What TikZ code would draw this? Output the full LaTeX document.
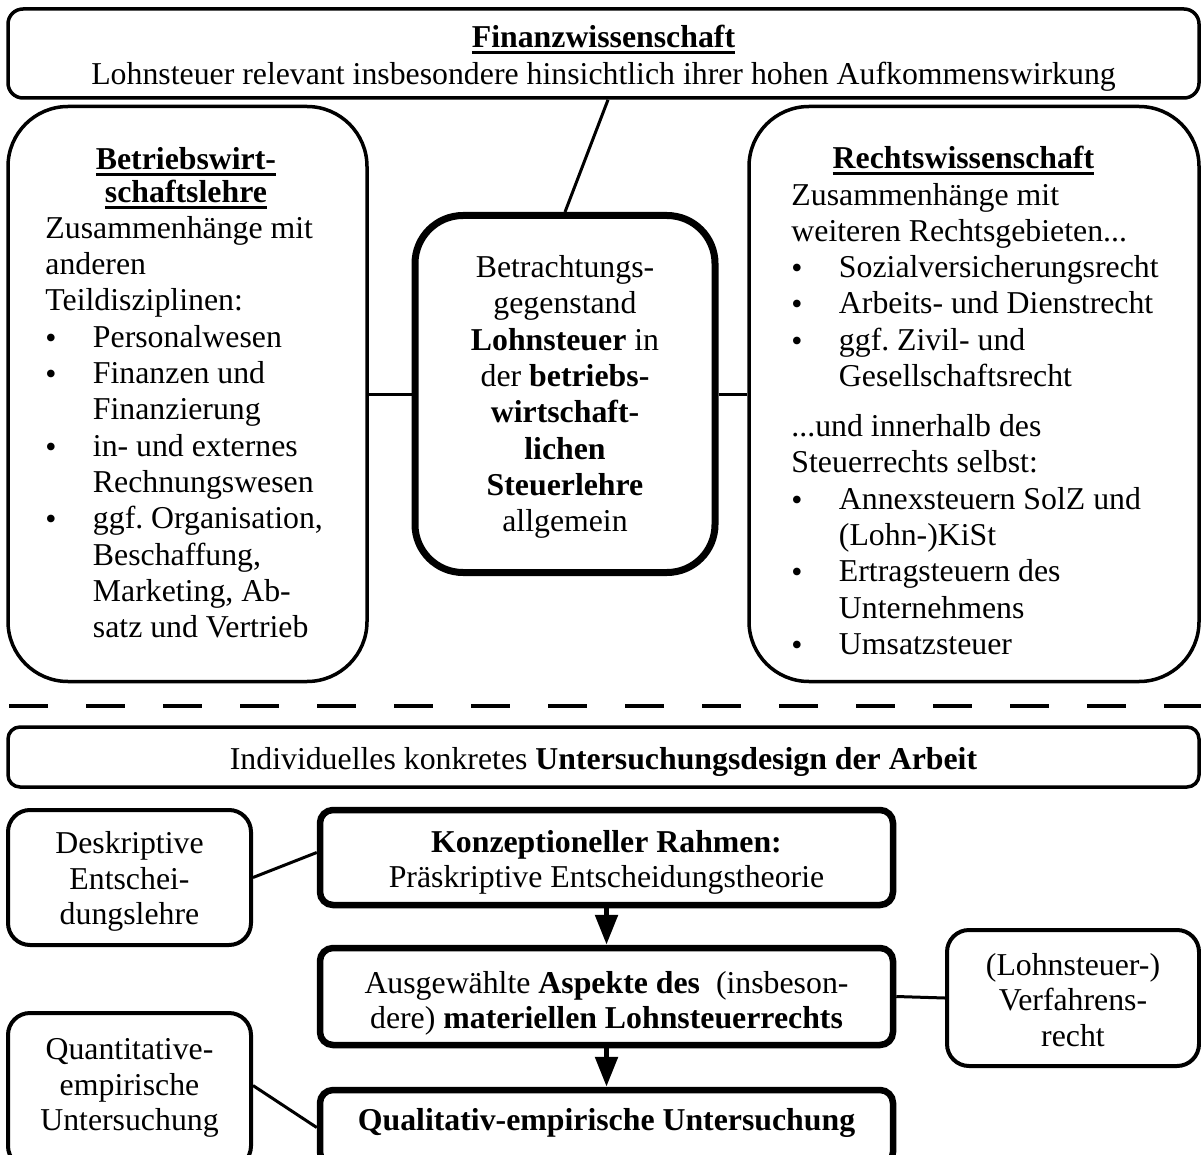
\documentclass[tikz,border=0pt]{standalone}
\usepackage{fontspec}
\setmainfont{Liberation Serif}
\usetikzlibrary{arrows.meta, positioning}

\newsavebox{\hdbox}
\newcommand{\headul}[1]{\sbox{\hdbox}{\textbf{#1}}\rlap{\rule[-6.5pt]{\wd\hdbox}{3pt}}\usebox{\hdbox}}
\newcommand{\bul}{\makebox[47.5pt][l]{\raisebox{-1pt}{•}}}
\newcommand{\listind}{\hspace*{47.5pt}}
% taller first line = text sits lower in its box
\newcommand{\push}[1]{\rule{0pt}{#1}}

\tikzset{
  frame/.style={draw, line width=3.5pt, rounded corners=15pt, inner sep=0pt},
  field/.style={draw, line width=3.5pt, rounded corners=60pt, inner sep=0pt},
  core/.style={draw, line width=7pt, rounded corners=48pt, inner sep=0pt},
  stepbox/.style={draw, line width=6.5pt, rounded corners=13pt, inner sep=0pt},
  notebox/.style={draw, line width=4pt, rounded corners=22pt, inner sep=0pt},
  link/.style={line width=3pt},
  flow/.style={line width=5.5pt, -{Triangle[length=30pt,width=22pt]}},
  cut/.style={line width=4pt, dash pattern=on 39pt off 38pt}
}

\begin{document}
\frenchspacing
\begin{tikzpicture}[x=1pt, y=-1pt, font=\fontsize{31.8}{36.3}\selectfont]
\useasboundingbox (0,0) rectangle (1201,1155);
\clip (0,0) rectangle (1201,1155);

% upper part: disciplines
\node[frame, minimum width=1191pt, minimum height=89pt, align=center] (fiwi) at (603.5,53.5)
  {\push{32pt}\headul{Finanzwissenschaft}\\Lohnsteuer relevant insbesondere hinsichtlich ihrer hohen Aufkommenswirkung};

\node[field, minimum width=359pt, minimum height=575pt] (bwl) at (187.5,394) {};
\node[field, minimum width=450pt, minimum height=575pt] (rewi) at (974,394) {};

\node[inner sep=0pt, anchor=base west] (bwltext) at ([shift={(39,65)}]bwl.north west)
  {\parbox[t]{281pt}{\raggedright
    \makebox[281pt]{\headul{Betriebswirt-}}\\[-4pt]
    \makebox[281pt]{\headul{schaftslehre}}\\
    Zusammenhänge mit\\
    anderen\\
    Teildisziplinen:\\
    \bul Personalwesen\\
    \bul Finanzen und\\
    \listind Finanzierung\\
    \bul in- und externes\\
    \listind Rechnungswesen\\
    \bul ggf. Organisation,\\
    \listind Beschaffung,\\
    \listind Marketing, Ab-\\
    \listind satz und Vertrieb}};

\node[inner sep=0pt, anchor=base west] (rewitext) at ([shift={(44,64)}]rewi.north west)
  {\parbox[t]{362pt}{\raggedright
    \makebox[344pt]{\headul{Rechtswissenschaft}}\\
    Zusammenhänge mit\\
    weiteren Rechtsgebieten...\\
    \bul Sozialversicherungsrecht\\
    \bul Arbeits- und Dienstrecht\\
    \bul ggf. Zivil- und\\
    \listind Gesellschaftsrecht\\[13.7pt]
    ...und innerhalb des\\
    Steuerrechts selbst:\\
    \bul Annexsteuern SolZ und\\
    \listind (Lohn-)KiSt\\
    \bul Ertragsteuern des\\
    \listind Unternehmens\\
    \bul Umsatzsteuer}};

\node[core, minimum width=300pt, minimum height=357pt, align=center] (core) at (565,394)
  {\push{28pt}Betrachtungs-\\gegenstand\\\textbf{Lohnsteuer} in\\der \textbf{betriebs-}\\\textbf{wirtschaft-}\\\textbf{lichen}\\\textbf{Steuerlehre}\\allgemein};

\draw[link] (core.north) -- ([xshift=4.5pt]fiwi.south);
\draw[link] (bwl.east) -- (core.west);
\draw[link] (core.east) -- (rewi.west);

\draw[cut] (9,706) -- (1201,706);

% lower part: research design
\node[frame, rounded corners=12pt, minimum width=1191pt, minimum height=60pt] (design) at (603.5,757)
  {\push{32pt}Individuelles konkretes \textbf{Untersuchungsdesign der Arbeit}};

\node[stepbox, minimum width=573pt, minimum height=95pt, align=center] (konz) at (606.5,857.5)
  {\push{32pt}\textbf{Konzeptioneller Rahmen:}\\[-2pt]Präskriptive Entscheidungstheorie};
\node[stepbox, minimum width=573pt, minimum height=97pt, align=center] (aspekte) at (606.5,996.5)
  {\push{36pt}Ausgewählte \textbf{Aspekte des}~ (insbeson-\\[-1pt]dere) \textbf{materiellen Lohnsteuerrechts}};
\node[stepbox, minimum width=573pt, text height=40pt, text depth=35pt, anchor=base] (quali) at (606.5,1130)
  {\textbf{Qualitativ-empirische Untersuchung}};

\node[notebox, minimum width=243pt, minimum height=135pt, align=center] (deskr) at (129.5,877.5)
  {\push{30pt}Deskriptive\\[-1pt]Entschei-\\[-1pt]dungslehre};
\node[notebox, minimum width=252pt, minimum height=136pt, align=center] (lohn) at (1073,998)
  {\push{26pt}(Lohnsteuer-)\\[-1pt]Verfahrens-\\[-1pt]recht};
\node[notebox, minimum width=243pt, minimum height=155pt] (quant) at (129.5,1090.5) {};
\node[inner sep=0pt, align=center] (quanttext) at (129.5,1088)
  {Quantitative-\\[-1pt]empirische\\[-1pt]Untersuchung};

\draw[flow] (konz) -- (aspekte);
\draw[flow] (aspekte) -- (quali);
\draw[link] (deskr.east) -- ([yshift=5pt]konz.west);
\draw[link] (aspekte.east) -- (lohn.west);
\draw[link] ([yshift=5pt]quant.east) -- (quali.west);
\end{tikzpicture}
\end{document}
